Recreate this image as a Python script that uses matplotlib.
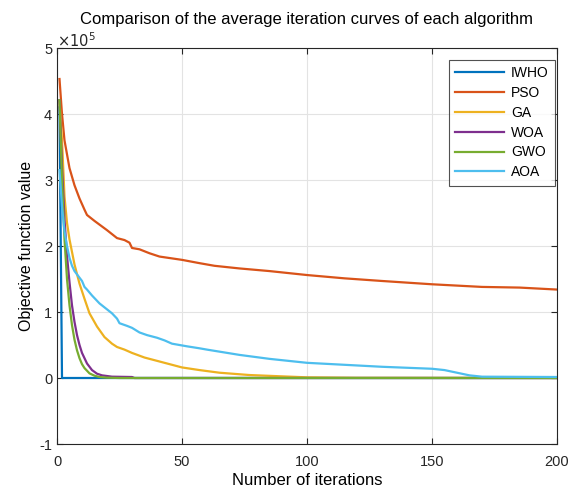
import matplotlib
matplotlib.use("Agg")
import matplotlib.pyplot as plt

plt.rcParams['font.family'] = ['Liberation Sans', 'DejaVu Sans']

# Series: (iteration, value in units of 1e5)
iwho_x = [1, 2, 200]
iwho_y = [4.1, 0.0, 0.0]

pso_x = [1, 2, 3, 5, 7, 9, 11, 12, 15, 20, 24, 27, 29, 30, 33, 37, 41, 50, 57, 63, 73, 85, 100, 115, 130, 150, 170, 185, 200]
pso_y = [4.53, 4.0, 3.6, 3.18, 2.92, 2.72, 2.55, 2.47, 2.38, 2.24, 2.12, 2.09, 2.05, 1.97, 1.95, 1.89, 1.84, 1.79, 1.74, 1.70, 1.66, 1.62, 1.56, 1.51, 1.47, 1.42, 1.38, 1.37, 1.34]

ga_x = [1, 2, 3, 4, 5, 7, 9, 11, 13, 16, 19, 22, 24, 27, 30, 35, 41, 50, 57, 65, 77, 90, 100, 120, 200]
ga_y = [4.2, 3.6, 2.75, 2.35, 2.1, 1.72, 1.43, 1.2, 0.98, 0.78, 0.62, 0.52, 0.47, 0.43, 0.38, 0.31, 0.25, 0.16, 0.12, 0.08, 0.045, 0.025, 0.01, 0.003, 0.0]

woa_x = [1, 2, 3, 4, 5, 6, 7, 8, 9, 10, 12, 14, 16, 18, 22, 30, 31, 200]
woa_y = [4.21, 3.2, 2.4, 1.85, 1.45, 1.1, 0.85, 0.65, 0.5, 0.38, 0.22, 0.12, 0.065, 0.04, 0.02, 0.015, 0.0, 0.0]

gwo_x = [1, 2, 3, 4, 5, 6, 7, 8, 9, 10, 11, 13, 15, 17, 20, 25, 200]
gwo_y = [4.21, 3.0, 2.1, 1.5, 1.1, 0.8, 0.58, 0.42, 0.3, 0.21, 0.15, 0.07, 0.035, 0.015, 0.005, 0.0, 0.0]

aoa_x = [1, 2, 3, 4, 5, 6, 7, 9, 10, 11, 12, 14, 17, 20, 22, 24, 25, 28, 30, 33, 36, 40, 43, 46, 52, 57, 60, 73, 85, 100, 115, 130, 150, 155, 160, 165, 170, 200]
aoa_y = [3.15, 2.6, 2.22, 2.0, 1.82, 1.7, 1.62, 1.52, 1.47, 1.38, 1.34, 1.25, 1.13, 1.04, 0.98, 0.9, 0.83, 0.79, 0.76, 0.69, 0.65, 0.61, 0.57, 0.52, 0.48, 0.45, 0.43, 0.35, 0.29, 0.23, 0.2, 0.17, 0.14, 0.12, 0.08, 0.04, 0.02, 0.015]

names = ['IWHO', 'PSO', 'GA', 'WOA', 'GWO', 'AOA']
colors = ['#0072BD', '#D95319', '#EDB120', '#7E2F8E', '#77AC30', '#4DBEEE']
xs = [iwho_x, pso_x, ga_x, woa_x, gwo_x, aoa_x]
ys = [iwho_y, pso_y, ga_y, woa_y, gwo_y, aoa_y]

x_ticks = [0, 50, 100, 150, 200]
y_ticks = [-1, 0, 1, 2, 3, 4, 5]
scale = 1e5

fig = plt.figure(figsize=(5.68, 4.9), dpi=100)
ax = fig.add_axes([57/568, 46/490, 500/568, 396/490])

for x, y, n, c in zip(xs, ys, names, colors):
    ax.plot(x, [v * scale for v in y], color=c, lw=1.6, label=n)

ax.set_xlim(0, 200)
ax.set_ylim(-1 * scale, 5 * scale)
ax.set_xticks(x_ticks)
ax.set_yticks([t * scale for t in y_ticks])
ax.set_yticklabels([str(t) for t in y_ticks])
ax.grid(True, color='#e3e3e3', lw=0.8)
ax.set_axisbelow(True)
ax.tick_params(direction='in', top=True, right=True, labelsize=10.5,
               colors='#262626', length=4, width=0.8)
ax.tick_params(axis='x', pad=8)
for s in ax.spines.values():
    s.set_color('#262626')
    s.set_linewidth(0.8)

ax.set_title('Comparison of the average iteration curves of each algorithm',
             fontsize=12, color='black', pad=17)
ax.set_xlabel('Number of iterations', fontsize=12, labelpad=3)
ax.set_ylabel('Objective function value', fontsize=11.5, labelpad=4)
ax.text(0.0, 0.996, r'$\times10^5$', transform=ax.transAxes, fontsize=10.5,
        color='#262626', ha='left', va='bottom')

leg = ax.legend(loc='upper right', bbox_to_anchor=(0.996, 0.97),
                fontsize=10, frameon=True, fancybox=False,
                handlelength=3.5, borderaxespad=0.0, labelspacing=0.42,
                handletextpad=0.5, borderpad=0.45)
leg.get_frame().set_edgecolor('#262626')
leg.get_frame().set_linewidth(0.8)

fig.savefig('out.png', dpi=100)
